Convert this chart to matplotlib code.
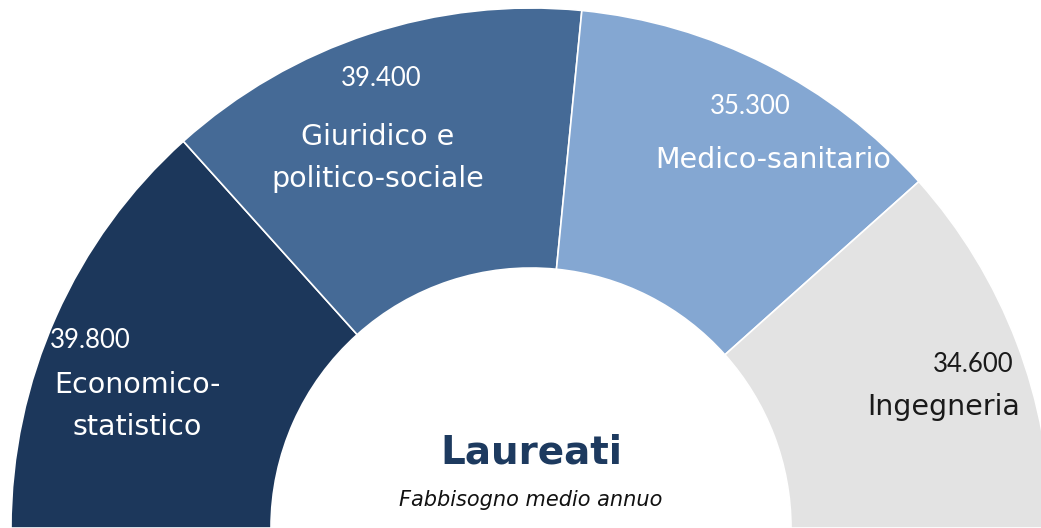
import matplotlib
matplotlib.use("Agg")
import matplotlib.pyplot as plt

# ---- data ----
categories = ["Economico-\nstatistico", "Giuridico e\npolitico-sociale", "Medico-sanitario", "Ingegneria"]
values = [39800, 39400, 35300, 34600]
value_labels = ["39.800", "39.400", "35.300", "34.600"]
colors = ["#1c375b", "#456a96", "#84a7d2", "#e3e3e3"]
text_colors = ["white", "white", "white", "#1a1a1a"]
title = "Laureati"
subtitle = "Fabbisogno medio annuo"

W, H = 1041, 528
fig = plt.figure(figsize=(W / 100, H / 100), dpi=100)
ax = fig.add_axes([0, 0, 1, 1])

total = sum(values)
wedges, _ = ax.pie(values + [total], startangle=180, counterclock=False,
                   radius=520, center=(531, 0),
                   colors=colors + ["white"],
                   wedgeprops=dict(width=260, edgecolor="white", linewidth=1.2))
wedges[-1].set_visible(False)

ax.set_xlim(0, W)
ax.set_ylim(0, H)
ax.set_aspect("equal")
ax.axis("off")

# label placement (image pixel coordinates: x, y from top)
num_pos = [(50, 341, "left"), (381, 78, "center"), (750, 107, "center"), (1014, 364, "right")]
lab_pos = [(137, 406, "center"), (378, 158, "center"), (773, 160, "center"), (1020, 407, "right")]

for i in range(len(values)):
    x, y, ha = num_pos[i]
    ax.text(x, H - y, value_labels[i], ha=ha, va="center", color=text_colors[i],
            fontsize=18.5, family="Lato")
    x, y, ha = lab_pos[i]
    ax.text(x, H - y, categories[i], ha=ha, va="center", color=text_colors[i],
            fontsize=20.5, family="DejaVu Sans", linespacing=1.62, multialignment="center")

ax.text(531, H - 452, title, ha="center", va="center", color="#1d3a5f",
        fontsize=28, fontweight="bold", family="DejaVu Sans")
ax.text(531, H - 500, subtitle, ha="center", va="center", color="#111111",
        fontsize=15, fontstyle="italic", family="DejaVu Sans")

fig.savefig("out.png", dpi=100)
